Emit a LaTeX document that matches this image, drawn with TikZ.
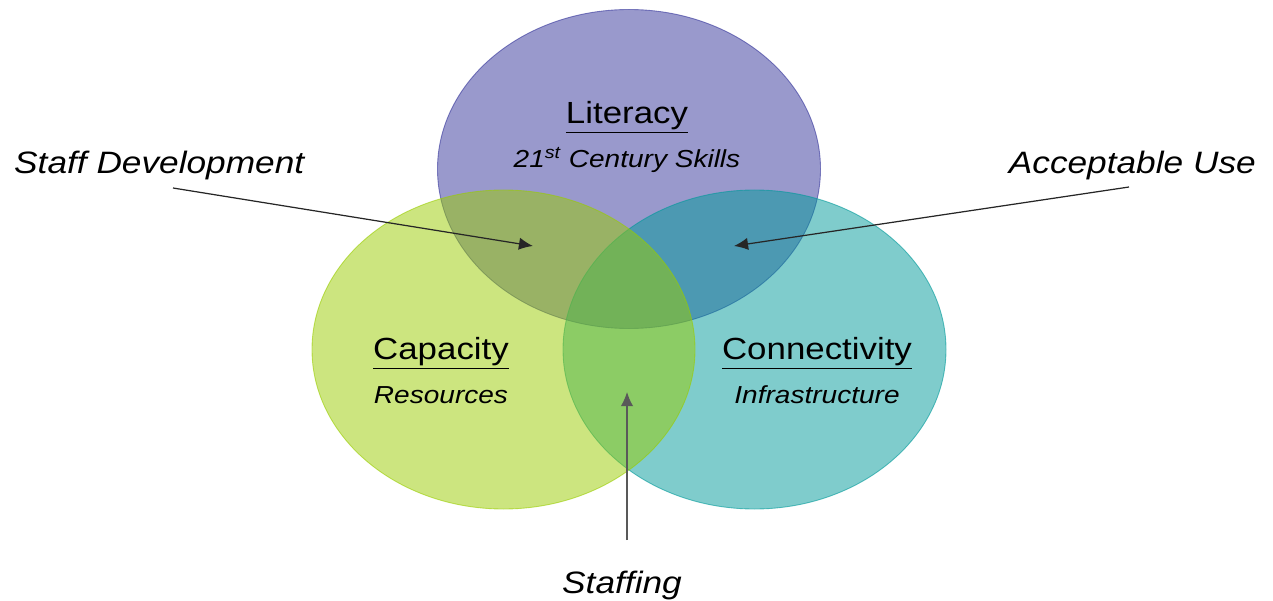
\documentclass[tikz,border=0pt]{standalone}
\usepackage{fontspec}
\setmainfont{Liberation Sans}[FakeStretch=1.14]
\usetikzlibrary{arrows.meta,shapes.geometric}

\definecolor{litcol}{RGB}{51,51,153}
\definecolor{concol}{RGB}{0,153,153}
\definecolor{capcol}{RGB}{153,204,0}

\newcommand{\uline}[1]{\underline{#1}}

\tikzset{
  set/.style={ellipse, inner sep=0pt, minimum width=7.66cm, minimum height=6.38cm,
    fill=#1, fill opacity=0.5, draw=#1, draw opacity=0.6, line width=0.5pt},
  head/.style={font=\fontsize{17.4}{20}\selectfont},
  sub/.style={font=\fontsize{14}{16}\selectfont\itshape},
  lbl/.style={font=\fontsize{17.6}{20}\selectfont\itshape},
  pointer/.style={-{Latex[length=8pt,width=7pt]}, line width=0.7pt, draw=black!85}
}

\begin{document}
\begin{tikzpicture}
\useasboundingbox (0,0) rectangle (25.46,12);

% the three sets
\node[set=litcol] (E1) at (12.58,8.62) {};
\node[set=concol] (E3) at (15.09,5.01) {};
\node[set=capcol] (E2) at (10.07,5.01) {};

% set names
\node[head] (T1) at (12.54,9.66) {\uline{Literacy}};
\node[sub]  (S1) at (12.54,8.80) {21\textsuperscript{st} Century Skills};
\node[head] (T2) at (8.82,4.94)  {\uline{Capacity}};
\node[sub]  (S2) at (8.82,4.10)  {Resources};
\node[head] (T3) at (16.34,4.94) {\uline{Connectivity}};
\node[sub]  (S3) at (16.34,4.10) {Infrastructure};

% overlap labels
\node[lbl, anchor=west] (D1) at (0.16,8.68)  {Staff Development};
\node[lbl, anchor=east] (D2) at (25.24,8.68) {Acceptable Use};
\node[lbl]              (D3) at (12.44,0.30) {Staffing};

\coordinate (P1) at (3.46,8.24);
\coordinate (P2) at (22.58,8.26);
\coordinate (P3) at (12.54,1.20);
\coordinate (Q1) at (10.66,7.08);
\coordinate (Q2) at (14.68,7.08);
\coordinate (Q3) at (12.54,4.16);

\draw[pointer] (P1) -- (Q1);
\draw[pointer] (P2) -- (Q2);
\draw[pointer, draw=black!65] (P3) -- (Q3);
\end{tikzpicture}
\end{document}
